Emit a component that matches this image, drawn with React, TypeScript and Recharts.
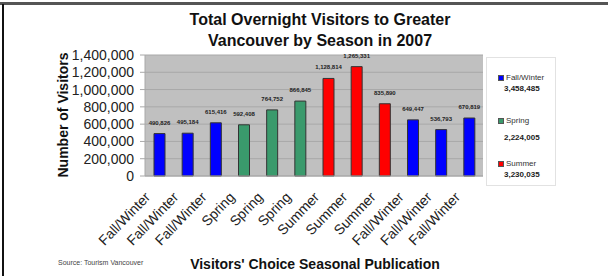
import React from "react";
import {
  BarChart,
  Bar,
  XAxis,
  YAxis,
  CartesianGrid,
  Cell,
  LabelList,
} from "recharts";

const categories = [
  "Fall/Winter",
  "Fall/Winter",
  "Fall/Winter",
  "Spring",
  "Spring",
  "Spring",
  "Summer",
  "Summer",
  "Summer",
  "Fall/Winter",
  "Fall/Winter",
  "Fall/Winter",
];

const visitors = [
  490826, 495184, 615416, 592408, 764752, 866845, 1128814, 1265331, 835890,
  649447, 536793, 670819,
];

const yTicks = [0, 200000, 400000, 600000, 800000, 1000000, 1200000, 1400000];

const legendSeasons = ["Fall/Winter", "Spring", "Summer"];
const legendTotals = [3458485, 2224005, 3230035];

const seasonColors: Record<string, string> = {
  "Fall/Winter": "#0000ff",
  Spring: "#3a9a6c",
  Summer: "#ff0000",
};

const data = categories.map((season, i) => ({
  season,
  value: visitors[i],
}));

const FONT = "'Liberation Sans', Arial, sans-serif";
const fmt = (v: number) => v.toLocaleString("en-US");

// rotated category labels, text ends just left of and below the tick
const SlantTick = (props: any) => {
  const { x, y, payload } = props;
  return (
    <g transform={`translate(${x - 8},${y + 14})`}>
      <text
        textAnchor="end"
        transform="rotate(-46)"
        fontSize={14}
        fontFamily={FONT}
        fill="#222"
      >
        {payload.value}
      </text>
    </g>
  );
};

export default function App() {
  return (
    <div
      style={{
        position: "fixed",
        top: 0,
        left: 0,
        width: 608,
        height: 276,
        background: "#fff",
        fontFamily: FONT,
      }}
    >
      {/* frame edges */}
      <div style={{ position: "absolute", left: 0, top: 2, width: 608, height: 3, background: "#555" }} />
      <div style={{ position: "absolute", left: 2, top: 4, width: 2, height: 272, background: "#111" }} />

      {/* title */}
      <div
        style={{
          position: "absolute",
          left: 160,
          width: 320,
          top: 9,
          textAlign: "center",
          fontWeight: "bold",
          fontSize: 16,
          lineHeight: "21px",
          color: "#111",
        }}
      >
        Total Overnight Visitors to Greater
        <br />
        Vancouver by Season in 2007
      </div>

      {/* y axis title */}
      <div
        style={{
          position: "absolute",
          left: 63,
          top: 115,
          transform: "translate(-50%, -50%) rotate(-90deg)",
          whiteSpace: "nowrap",
          fontWeight: "bold",
          fontSize: 14,
          color: "#111",
        }}
      >
        Number of Visitors
      </div>

      <div style={{ position: "absolute", left: 0, top: 0 }}>
        <BarChart
          width={608}
          height={276}
          data={data}
          margin={{ top: 55, right: 125, bottom: 0, left: 85 }}
          barSize={11}
        >
          <CartesianGrid
            vertical={false}
            fill="#c0c0c0"
            stroke="#a8a8a8"
            strokeWidth={1}
          />
          <XAxis
            dataKey="season"
            interval={0}
            tickLine={false}
            axisLine={{ stroke: "#a8a8a8" }}
            tick={<SlantTick />}
            height={100}
          />
          <YAxis
            domain={[0, 1400000]}
            ticks={yTicks}
            interval={0}
            width={60}
            tickSize={5}
            tickMargin={6}
            tickLine={{ stroke: "#a8a8a8" }}
            axisLine={{ stroke: "#a8a8a8" }}
            tickFormatter={fmt}
            tick={{ fontSize: 14, fill: "#222", fontFamily: FONT }}
          />
          <Bar
            dataKey="value"
            stroke="#333"
            strokeWidth={1}
            isAnimationActive={false}
          >
            {data.map((d, i) => (
              <Cell key={`c-${i}`} fill={seasonColors[d.season]} />
            ))}
            <LabelList
              dataKey="value"
              position="top"
              offset={9}
              formatter={(v: any) => fmt(Number(v))}
              style={{
                fontSize: 6,
                fontWeight: "bold",
                fill: "#222",
                fontFamily: FONT,
              }}
            />
          </Bar>
        </BarChart>
      </div>

      {/* legend */}
      <div
        style={{
          position: "absolute",
          left: 486,
          top: 57,
          width: 70,
          height: 129,
          border: "1px solid #e2e2e2",
          background: "#fff",
          boxSizing: "border-box",
        }}
      >
        {legendSeasons.map((s, i) => (
          <div
            key={s}
            style={{
              position: "absolute",
              left: 11,
              top: 15 + i * 43,
              fontSize: 8,
              color: "#333",
            }}
          >
            <div style={{ display: "flex", alignItems: "center", gap: 2 }}>
              <span
                style={{
                  width: 6,
                  height: 6,
                  background: seasonColors[s],
                  border: "1px solid #555",
                  boxSizing: "border-box",
                  display: "inline-block",
                }}
              />
              <span>{s}</span>
            </div>
            <div
              style={{
                marginTop: i === 1 ? 8 : 2,
                marginLeft: 6,
                fontWeight: "bold",
                color: "#222",
              }}
            >
              {fmt(legendTotals[i])}
            </div>
          </div>
        ))}
      </div>

      {/* x axis title */}
      <div
        style={{
          position: "absolute",
          left: 315,
          top: 264,
          transform: "translate(-50%, -50%)",
          whiteSpace: "nowrap",
          fontWeight: "bold",
          fontSize: 14,
          color: "#111",
        }}
      >
        Visitors' Choice Seasonal Publication
      </div>

      {/* source note */}
      <div
        style={{
          position: "absolute",
          left: 58,
          top: 259,
          fontSize: 7,
          color: "#444",
          whiteSpace: "nowrap",
        }}
      >
        Source: Tourism Vancouver
      </div>
    </div>
  );
}
